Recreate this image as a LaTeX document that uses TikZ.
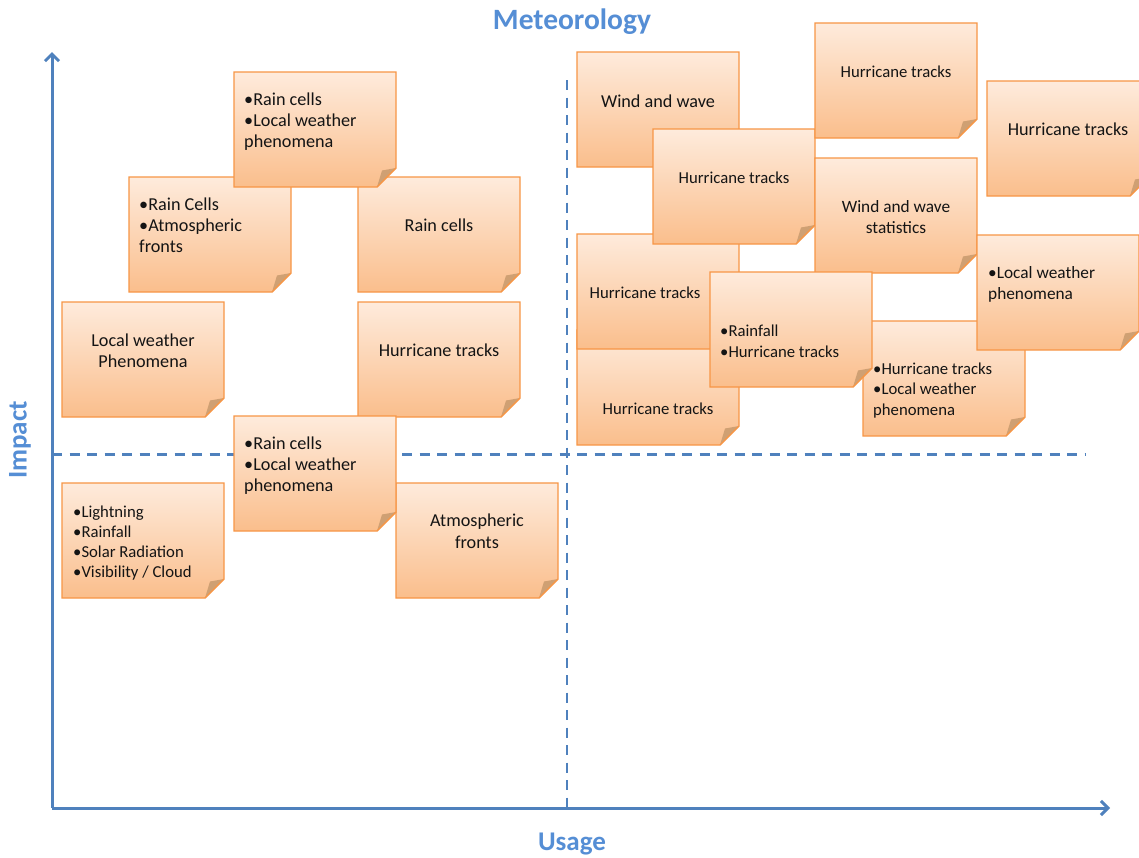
\documentclass[tikz,border=0pt]{standalone}
\usepackage{fontspec}
\setmainfont{Carlito}
\usetikzlibrary{arrows.meta}
\definecolor{notetop}{RGB}{254,235,220}
\definecolor{notebot}{RGB}{250,190,140}
\definecolor{noteline}{RGB}{247,150,70}
\definecolor{foldc}{RGB}{207,160,115}
\definecolor{axisblue}{RGB}{79,129,189}
\definecolor{titleblue}{RGB}{85,142,213}
\definecolor{ink}{RGB}{20,20,20}
\tikzset{
  bigtxt/.style={font=\fontsize{18.2}{22}\selectfont, inner sep=0pt, text=ink},
  midtxt/.style={font=\fontsize{17.3}{21}\selectfont, inner sep=0pt, text=ink},
  smalltxt/.style={font=\fontsize{16.7}{20}\selectfont, inner sep=0pt, text=ink},
  lb/.style={anchor=base west},
  cb/.style={anchor=base},
  noteborder/.style={draw=noteline, line width=1.4pt, line join=miter},
  axisline/.style={draw=axisblue, line width=3pt},
  dashline/.style={draw=axisblue, line width=2.5pt, dash pattern=on 10pt off 7.5pt},
  axlabel/.style={font=\fontsize{27}{30}\selectfont\bfseries, text=titleblue, inner sep=0pt}
}
\newcommand\stickynote[2]{%
  \shade[top color=notetop, bottom color=notebot] (#1,#2) -- (#1+162,#2) -- (#1+162,#2+96) -- (#1+143,#2+115) -- (#1,#2+115) -- cycle;
  \fill[foldc] (#1+143,#2+115) -- (#1+162,#2+96) -- (#1+148,#2+98.5) -- cycle;
  \draw[noteborder] (#1,#2) -- (#1+162,#2) -- (#1+162,#2+96) -- (#1+143,#2+115) -- (#1,#2+115) -- cycle;
}
\begin{document}
\begin{tikzpicture}[x=1pt, y=-1pt]
\clip (0,0) rectangle (1139,857);
\fill[white] (0,0) rectangle (1139,857);

% axes and quadrant lines
\coordinate (orig) at (52,808);
\coordinate (ytip) at (52,52);
\coordinate (xtip) at (1110,808);
\coordinate (vtop) at (567,80);
\coordinate (vbot) at (567,808);
\coordinate (hl) at (52,454.5);
\coordinate (hr) at (1085,454.5);
\draw[dashline] (vtop) -- (vbot);
\draw[dashline] (hl) -- (hr);
\draw[axisline, -{Straight Barb[length=7pt, width=14pt]}] (orig) -- (ytip);
\draw[axisline, -{Straight Barb[length=7pt, width=14pt]}] (orig) -- (xtip);

\node[axlabel, font=\fontsize{29.5}{32}\selectfont\bfseries] (meteo) at (572,22) {Meteorology};
\node[axlabel] (usage) at (572,844) {Usage};
\node[axlabel, rotate=90] (impact) at (20,440) {Impact};

% ---------- left half ----------
\stickynote{129}{177}
\node[bigtxt, lb] (n2a) at (139,210) {•Rain Cells};
\node[bigtxt, lb] (n2b) at (139,231) {•Atmospheric};
\node[bigtxt, lb] (n2c) at (139,252) {fronts};

\stickynote{358}{177}
\node[bigtxt, cb] (n3a) at (439,231) {Rain cells};

\stickynote{234}{72}
\node[bigtxt, lb] (n1a) at (244,105) {•Rain cells};
\node[bigtxt, lb] (n1b) at (244,126) {•Local weather};
\node[bigtxt, lb] (n1c) at (244,147) {phenomena};

\stickynote{62}{302}
\node[bigtxt, cb] (n4a) at (143,346) {Local weather};
\node[bigtxt, cb] (n4b) at (143,367) {Phenomena};

\stickynote{358}{302}
\node[bigtxt, cb] (n5a) at (439,356) {Hurricane tracks};

\stickynote{396}{483}
\node[bigtxt, cb] (n8a) at (477,526) {Atmospheric};
\node[bigtxt, cb] (n8b) at (477,548) {fronts};

\stickynote{234}{416}
\node[bigtxt, lb] (n6a) at (244,449) {•Rain cells};
\node[bigtxt, lb] (n6b) at (244,470) {•Local weather};
\node[bigtxt, lb] (n6c) at (244,491) {phenomena};

\stickynote{62}{483}
\node[smalltxt, lb] (n7a) at (73,517) {•Lightning};
\node[smalltxt, lb] (n7b) at (73,537) {•Rainfall};
\node[smalltxt, lb] (n7c) at (73,557) {•Solar Radiation};
\node[smalltxt, lb] (n7d) at (73,577) {•Visibility / Cloud};

% ---------- right half ----------
\stickynote{577}{52}
\node[bigtxt, cb] (n9a) at (658,107) {Wind and wave};

\stickynote{577}{330}
\node[smalltxt, cb] (n15a) at (658,414) {Hurricane tracks};

\stickynote{577}{234}
\node[smalltxt, cb] (n14a) at (645,298) {Hurricane tracks};

\stickynote{653}{129}
\node[smalltxt, cb] (n12a) at (734,183) {Hurricane tracks};

\stickynote{815}{23}
\node[smalltxt, cb] (n10a) at (896,77) {Hurricane tracks};

\stickynote{987}{81}
\node[bigtxt, cb] (n11a) at (1068,135) {Hurricane tracks};

\stickynote{815}{158}
\node[midtxt, cb] (n13a) at (896,212) {Wind and wave};
\node[midtxt, cb] (n13b) at (896,233) {statistics};

\stickynote{863}{321}
\node[smalltxt, lb] (n17a) at (873,374) {•Hurricane tracks};
\node[smalltxt, lb] (n17b) at (873,394.5) {•Local weather};
\node[smalltxt, lb] (n17c) at (873,415) {phenomena};

\stickynote{710}{272}
\node[smalltxt, lb] (n16a) at (720,336) {•Rainfall};
\node[smalltxt, lb] (n16b) at (720,357) {•Hurricane tracks};

\stickynote{977}{235}
\node[midtxt, lb] (n18a) at (988,278) {•Local weather};
\node[midtxt, lb] (n18b) at (988,299) {phenomena};
\end{tikzpicture}
\end{document}
